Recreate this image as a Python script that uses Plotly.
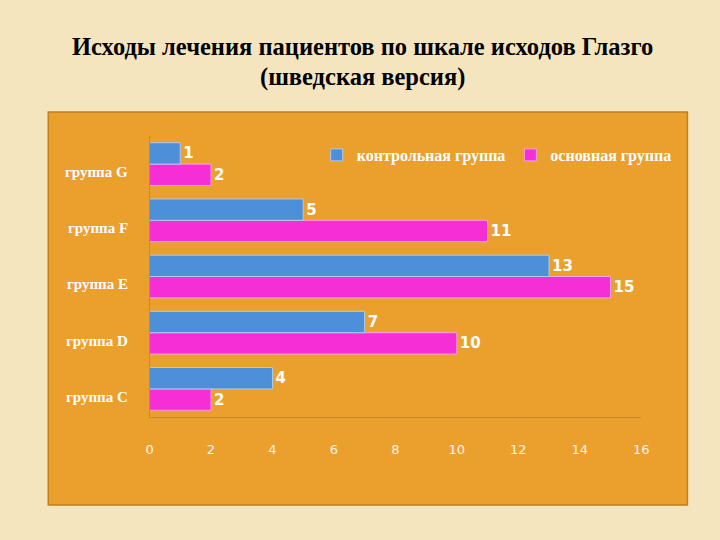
import plotly.graph_objects as go

categories = ["группа C", "группа D", "группа E", "группа F", "группа G"]
control = [4, 7, 13, 5, 1]
main = [2, 10, 15, 11, 2]
x_ticks = [0, 2, 4, 6, 8, 10, 12, 14, 16]
series_names = ["контрольная группа", "основная группа"]
title_lines = ["Исходы лечения пациентов по шкале исходов Глазго", "(шведская версия)"]

fig = go.Figure()
# pink added first so blue sits on top within each group
fig.add_trace(go.Bar(
    y=categories, x=main, orientation="h", name=series_names[1],
    marker=dict(color="#f52ed6", line=dict(color="#f9a0ec", width=1)),
    text=[str(v) for v in main], textposition="outside",
    textfont=dict(family="DejaVu Sans", size=15, color="white", weight="bold"),
    cliponaxis=False, legendrank=2,
))
fig.add_trace(go.Bar(
    y=categories, x=control, orientation="h", name=series_names[0],
    marker=dict(color="#4d8fd8", line=dict(color="#a9cdf2", width=1)),
    text=[str(v) for v in control], textposition="outside",
    textfont=dict(family="DejaVu Sans", size=15, color="white", weight="bold"),
    cliponaxis=False, legendrank=1,
))

annotations = [
    dict(text="<b>" + title_lines[0] + "</b>", x=0.507, y=1 - 47 / 540, xref="paper", yref="paper",
         yanchor="middle", showarrow=False,
         font=dict(family="Liberation Serif", size=24.5, color="black")),
    dict(text="<b>" + title_lines[1] + "</b>", x=0.507, y=1 - 77 / 540, xref="paper", yref="paper",
         yanchor="middle", showarrow=False,
         font=dict(family="Liberation Serif", size=24.5, color="black")),
]
for c in categories:
    annotations.append(dict(text=c, x=128 / 720, xref="paper", y=c, yref="y", xanchor="right",
                            yshift=-8, showarrow=False,
                            font=dict(family="Liberation Serif", size=15, color="white", weight="bold")))

fig.update_layout(
    width=720, height=540,
    margin=dict(l=0, r=0, t=0, b=0),
    paper_bgcolor="#f5e5be",
    plot_bgcolor="rgba(0,0,0,0)",
    barmode="group", bargap=0.24, bargroupgap=0.0,
    showlegend=True,
    legend=dict(orientation="h", x=318 / 720, y=1 - 155 / 540, xanchor="left", yanchor="middle",
                font=dict(family="Liberation Serif", size=16, color="white", weight="bold"),
                bgcolor="rgba(0,0,0,0)", itemwidth=30, traceorder="normal"),
    xaxis=dict(domain=[148 / 720, 648 / 720], range=[0, 16], tickvals=x_ticks,
               showgrid=False, zeroline=False, showline=True, linecolor="#c98a2a",
               tickfont=dict(family="DejaVu Sans", size=13, color="#fff5e0"),
               ticklabelstandoff=20, ticks=""),
    yaxis=dict(domain=[1 - 417 / 540, 1 - 136 / 540], showticklabels=False,
               showgrid=False, zeroline=False, showline=True, linecolor="#c98a2a", ticks=""),
    shapes=[dict(type="rect", xref="paper", yref="paper", x0=45 / 720, x1=695 / 720,
                 y0=1 - 505 / 540, y1=1 - 112 / 540, fillcolor="#eba02e",
                 line=dict(color="#c47f1c", width=1.5), layer="below")],
    annotations=annotations,
)

fig.write_html("out.html", config={"displayModeBar": False},
               post_script="document.body.style.margin='0';")
